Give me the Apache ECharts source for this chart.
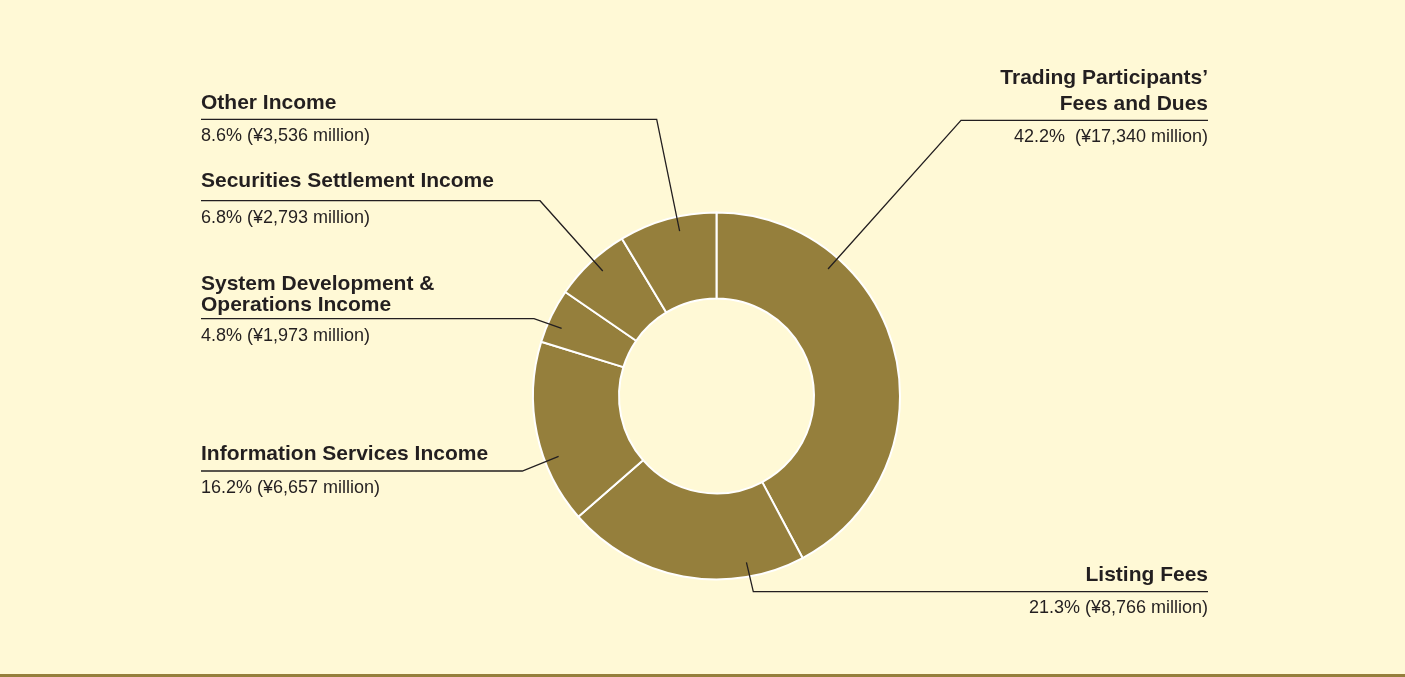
<!DOCTYPE html>
<html>
<head>
<meta charset="utf-8">
<title>Operating Revenue Breakdown</title>
<script src="https://cdn.jsdelivr.net/npm/echarts@6.0.0/dist/echarts.min.js"></script>
<style>
  html, body { margin: 0; padding: 0; background: #FFF9D6; }
  #chart { width: 1405px; height: 677px; }
</style>
</head>
<body>
<div id="chart"></div>
<script>
// Revenue segments, clockwise from 12 o'clock
const categories = [
  'Trading Participants’\nFees and Dues',
  'Listing Fees',
  'Information Services Income',
  'System Development &\nOperations Income',
  'Securities Settlement Income',
  'Other Income'
];
const revenues = [17340, 8766, 6657, 1973, 2793, 3536];   // ¥ million
const shares = [42.2, 21.3, 16.2, 4.8, 6.8, 8.6];         // % of total

// Donut geometry (pixels)
const CX = 716.5, CY = 396, R_IN = 97.5, R_OUT = 183.5, R_LEADER = 169;

// Callout placement: text block anchor, line heights, leader line route
const callouts = [
  { x: 1208, top: 64.6, align: 'right', nameLH: 26.7, valueLH: 37.4, sep: '  ', angle: 41.3,  elbow: [961, 120.3], endX: 1208 },
  { x: 1208, top: 563.3, align: 'right', nameLH: 24, valueLH: 41.4, sep: ' ', angle: 169.8, elbow: [753.3, 591.7], endX: 1208 },
  { x: 201,  top: 442.7, align: 'left',  nameLH: 24, valueLH: 43.2, sep: ' ', angle: 249.1, elbow: [522.3, 471], endX: 201 },
  { x: 201,  top: 274.2, align: 'left',  nameLH: 21, valueLH: 39,   sep: ' ', angle: 293.6, elbow: [534, 318.7], endX: 201 },
  { x: 201,  top: 169.3, align: 'left',  nameLH: 24, valueLH: 49.4, sep: ' ', angle: 317.7, elbow: [540, 200.7], endX: 201 },
  { x: 201,  top: 91.7,  align: 'left',  nameLH: 24, valueLH: 41.6, sep: ' ', angle: 347.4, elbow: [656.7, 119.3], endX: 201 }
];

const FONT = "'Liberation Sans', Arial, Helvetica, sans-serif";
const TEXT_COLOR = '#231F20';
const OLIVE = '#957F3C';

const rich = {};
callouts.forEach((c, i) => {
  rich['n' + i] = { fontFamily: FONT, fontSize: 21, fontWeight: 'bold', color: TEXT_COLOR, lineHeight: c.nameLH };
  rich['v' + i] = { fontFamily: FONT, fontSize: 18, color: TEXT_COLOR, lineHeight: c.valueLH };
});

const pieData = categories.map((name, i) => ({ name: name, value: revenues[i] }));

const chart = echarts.init(document.getElementById('chart'), null, { renderer: 'canvas' });

const common = {
  type: 'pie',
  center: [CX, CY],
  radius: [R_IN, R_OUT],
  startAngle: 90,
  clockwise: true,
  avoidLabelOverlap: false,
  silent: true,
  emphasis: { disabled: true },
  data: pieData
};

chart.setOption({
  backgroundColor: '#FFF9D6',
  animation: false,
  graphic: [{
    type: 'rect',
    left: 0,
    bottom: 0,
    shape: { width: 1405, height: 3 },
    style: { fill: OLIVE },
    silent: true
  }],
  series: [
    // The donut ring itself
    Object.assign({}, common, {
      z: 2,
      itemStyle: { color: OLIVE, borderColor: '#FFFFFF', borderWidth: 2 },
      label: { show: false },
      labelLine: { show: false }
    }),
    // Same slices, transparent, carrying the callouts so leaders sit above the ring
    Object.assign({}, common, {
      z: 3,
      itemStyle: { color: 'rgba(0,0,0,0)', borderWidth: 0 },
      label: {
        show: true,
        position: 'outside',
        rich: rich,
        formatter: function (p) {
          const i = p.dataIndex;
          const c = callouts[i];
          const nameLines = categories[i].split('\n').map(s => '{n' + i + '|' + s + '}').join('\n');
          const value = shares[i].toFixed(1) + '%' + c.sep + '(¥' + revenues[i].toLocaleString('en-US') + ' million)';
          return nameLines + '\n{v' + i + '|' + value + '}';
        }
      },
      labelLine: {
        show: true,
        smooth: false,
        lineStyle: { color: TEXT_COLOR, width: 1.3 }
      },
      labelLayout: function (p) {
        const c = callouts[p.dataIndex];
        const a = c.angle * Math.PI / 180;
        const start = [CX + R_LEADER * Math.sin(a), CY - R_LEADER * Math.cos(a)];
        return {
          x: c.x,
          y: c.top,
          align: c.align,
          verticalAlign: 'top',
          labelLinePoints: [start, c.elbow, [c.endX, c.elbow[1]]]
        };
      }
    })
  ]
});
</script>
</body>
</html>
